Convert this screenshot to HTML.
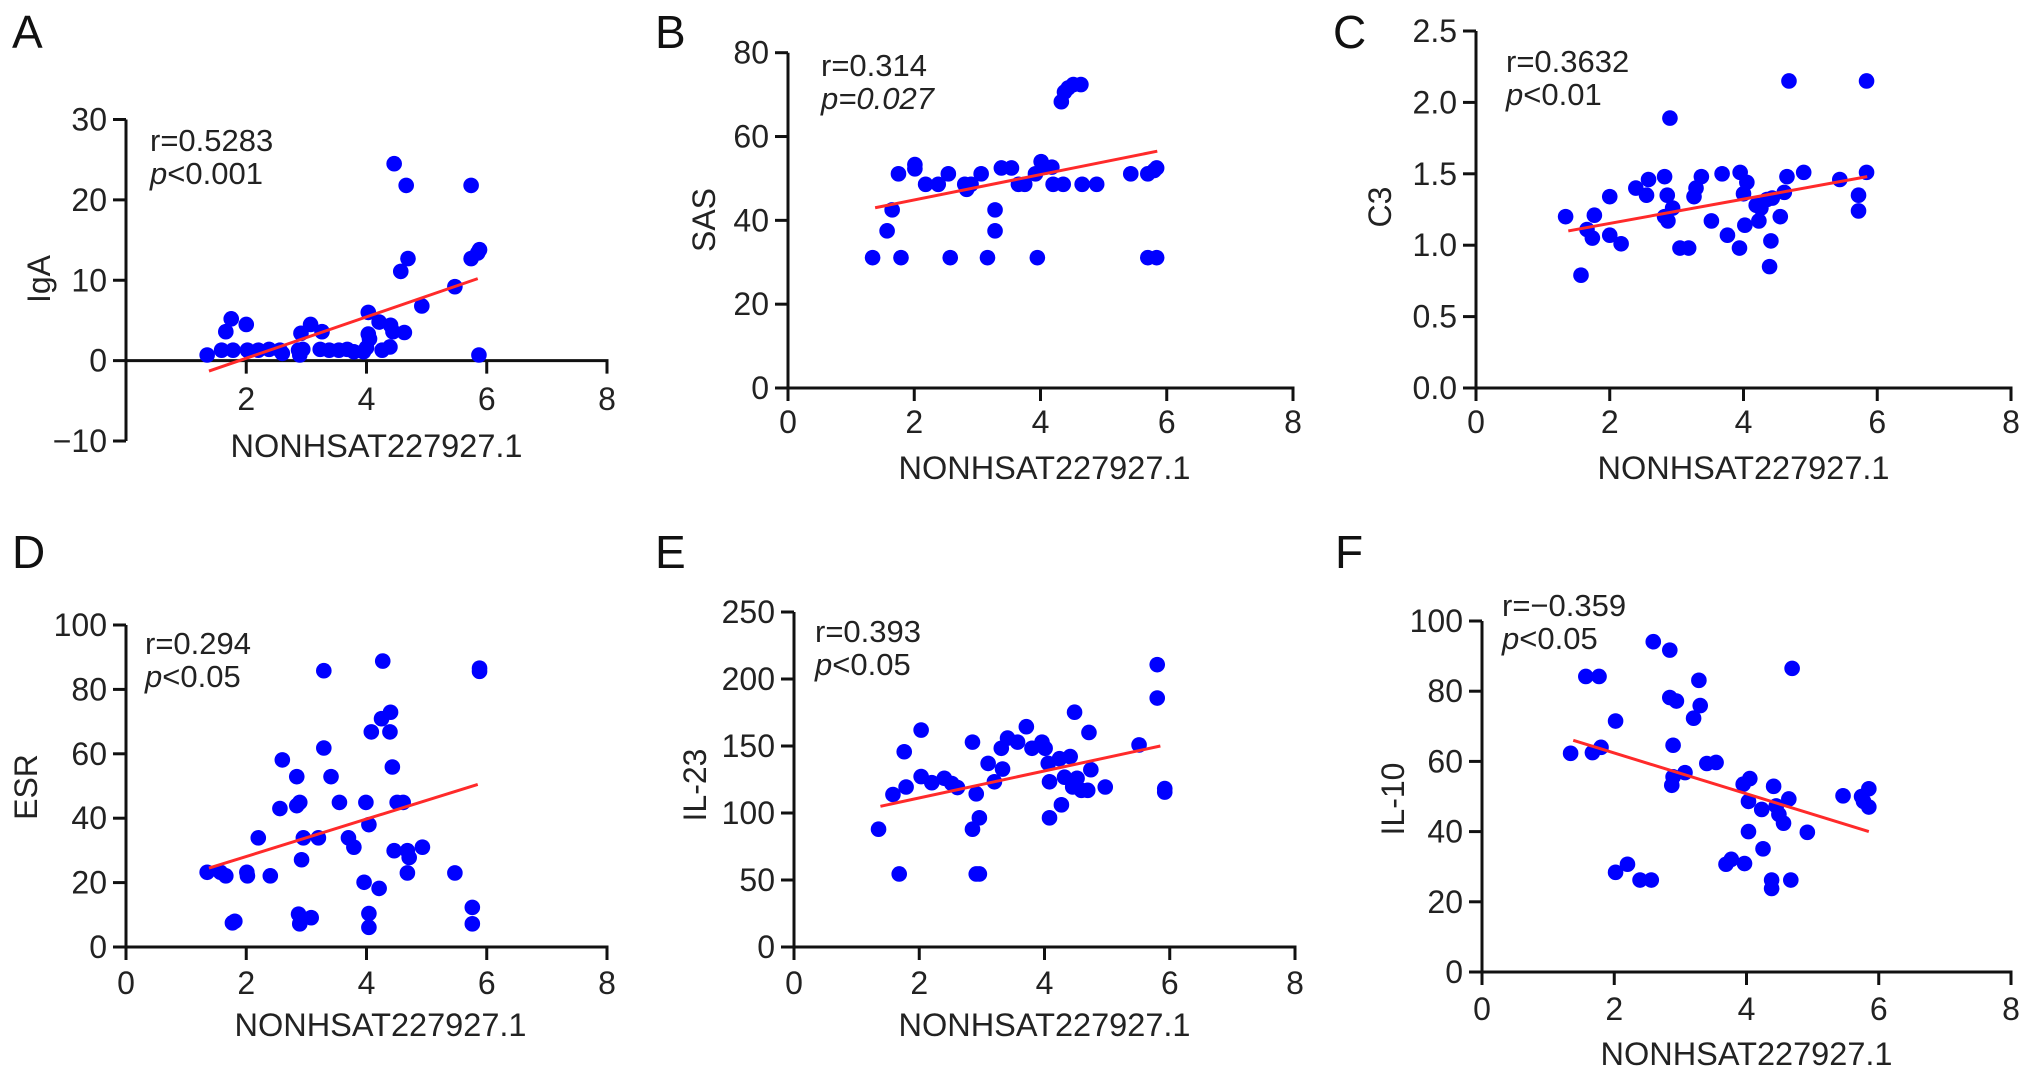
<!DOCTYPE html>
<html><head><meta charset="utf-8"><style>
html,body{margin:0;padding:0;background:#fff;}
svg{display:block;font-family:"Liberation Sans",Arial,sans-serif;}
</style></head><body>
<svg id="fig" width="2032" height="1079" viewBox="0 0 2032 1079"></svg>
<script>
// ---- data (x = NONHSAT227927.1 expression) ----
const xA=[1.35,1.59,1.75,1.66,1.78,2.0,2.02,2.2,2.38,2.56,2.6,2.87,2.89,2.91,2.94,3.07,3.26,3.23,3.38,3.54,3.68,3.79,3.95,4.0,4.03,4.03,4.05,4.21,4.26,4.39,4.4,4.44,4.46,4.57,4.63,4.66,4.69,4.92,5.47,5.74,5.74,5.85,5.88,5.87];
const yA=[0.7,1.3,5.2,3.6,1.3,4.5,1.3,1.3,1.4,1.3,0.9,1.3,0.7,3.4,1.4,4.5,3.6,1.4,1.3,1.3,1.4,1.1,1.1,1.6,3.3,6.0,2.7,4.8,1.3,1.7,4.4,3.6,24.5,11.1,3.5,21.8,12.7,6.8,9.2,21.8,12.7,13.4,13.8,0.7];
const xB=[1.34,1.57,1.65,1.75,1.79,2.01,2.01,2.18,2.38,2.54,2.57,2.8,2.83,2.9,3.06,3.16,3.28,3.28,3.38,3.54,3.65,3.75,3.92,3.95,4.01,4.08,4.18,4.2,4.36,4.33,4.38,4.44,4.52,4.64,4.66,4.89,5.43,5.7,5.7,5.8,5.84,5.84];
const yB=[31.1,37.5,42.5,51.1,31.1,53.3,52.3,48.6,48.6,51.1,31.1,48.6,47.4,48.6,51.1,31.1,42.5,37.5,52.5,52.5,48.6,48.6,51.1,31.1,54.0,52.7,52.7,48.6,48.6,68.3,70.6,71.6,72.4,72.4,48.6,48.6,51.1,51.1,31.1,51.9,52.5,31.1];
const xC=[1.34,1.57,1.66,1.74,1.77,2.0,2.0,2.17,2.39,2.55,2.58,2.82,2.82,2.86,2.87,2.9,2.94,3.05,3.18,3.26,3.29,3.37,3.52,3.68,3.76,3.94,3.95,4.0,4.02,4.05,4.19,4.23,4.26,4.35,4.39,4.41,4.43,4.55,4.61,4.65,4.68,4.9,5.44,5.72,5.72,5.84,5.84];
const yC=[1.20,0.79,1.11,1.05,1.21,1.34,1.07,1.01,1.40,1.35,1.46,1.48,1.20,1.35,1.17,1.89,1.26,0.98,0.98,1.34,1.40,1.48,1.17,1.50,1.07,0.98,1.51,1.36,1.14,1.44,1.28,1.17,1.26,1.32,0.85,1.03,1.33,1.20,1.37,1.48,2.15,1.51,1.46,1.35,1.24,1.51,2.15];
const xD=[1.35,1.57,1.66,1.77,1.81,2.01,2.02,2.2,2.4,2.56,2.6,2.84,2.84,2.89,2.87,2.89,2.92,2.95,3.08,3.2,3.29,3.29,3.41,3.55,3.7,3.79,3.99,3.96,4.04,4.04,4.04,4.08,4.21,4.25,4.27,4.39,4.4,4.43,4.46,4.51,4.61,4.68,4.71,4.68,4.93,5.47,5.76,5.76,5.88,5.88];
const yD=[23.2,23.2,22.1,7.5,8.0,23.2,22.1,33.9,22.1,43.0,58.1,52.9,43.9,44.9,10.2,7.2,27.1,33.9,9.1,33.9,85.8,61.8,52.9,44.9,33.9,31.0,44.9,20.1,38.0,10.4,6.1,66.8,18.2,70.9,88.8,66.8,72.9,55.9,29.9,44.9,44.9,29.9,27.8,23.0,31.0,23.0,12.3,7.2,86.6,85.6];
const xE=[1.35,1.58,1.68,1.76,1.79,2.03,2.03,2.2,2.4,2.52,2.61,2.85,2.85,2.91,2.91,2.96,2.96,3.1,3.2,3.31,3.33,3.41,3.57,3.71,3.8,3.96,4.01,4.06,4.08,4.08,4.24,4.27,4.32,4.41,4.45,4.48,4.52,4.59,4.69,4.71,4.74,4.97,5.51,5.8,5.8,5.92,5.92];
const yE=[87.9,113.8,54.5,145.7,119.4,161.9,127.2,122.6,125.9,122.0,119.0,152.9,87.9,114.3,54.5,54.5,96.4,137.0,123.3,148.3,132.8,155.9,152.9,164.4,148.3,152.9,148.3,137.0,96.4,123.3,140.5,106.1,126.7,142.1,119.4,175.2,125.9,116.9,116.9,160.1,132.3,119.4,150.8,210.7,185.8,118.2,115.6];
const xF=[1.34,1.57,1.67,1.77,1.8,2.02,2.02,2.2,2.39,2.56,2.59,2.84,2.84,2.89,2.94,2.89,2.87,3.07,3.2,3.28,3.3,3.4,3.54,3.69,3.77,3.95,3.97,4.03,4.03,4.05,4.23,4.25,4.38,4.38,4.41,4.45,4.49,4.56,4.64,4.67,4.69,4.92,5.46,5.74,5.77,5.85,5.85];
const yF=[62.3,84.2,62.5,84.2,64.0,71.5,28.4,30.7,26.2,26.2,94.1,91.7,78.2,64.6,77.2,55.6,53.2,56.8,72.3,83.1,75.9,59.4,59.7,30.7,32.1,53.5,30.9,40.0,48.6,55.1,46.3,35.1,26.2,23.8,52.9,47.3,44.9,42.4,49.3,26.2,86.5,39.8,50.2,50.0,48.6,52.2,47.0];
// regression line endpoints
const fitX=[1.38,5.85];
const fitA=[-1.3,10.2];
const fitB=[43.0,56.5];
const fitC=[1.10,1.48];
const fitD=[24.5,50.5];
const fitE=[105,150];
const fitF=[66,40];
// tick values
const ticksA=[-10,0,10,20,30];
const ticksB=[0,20,40,60,80];
const ticksC=[0,0.5,1.0,1.5,2.0,2.5];
const ticksD=[0,20,40,60,80,100];
const ticksE=[0,50,100,150,200,250];
const ticksF=[0,20,40,60,80,100];
const xTicks=[0,2,4,6,8];

const NS="http://www.w3.org/2000/svg";
const svg=document.getElementById('fig');
function mk(tag,attrs,parent,text){const e=document.createElementNS(NS,tag);for(const k in attrs)e.setAttribute(k,attrs[k]);if(text!==undefined)e.textContent=text;(parent||svg).appendChild(e);return e;}

const panels=[
 {id:'a',letter:'A',lx:12,ly:48,ax:126,ax8:607,ytop:119.5,ybot:441,ymin:-10,ymax:30,xs:xA,ys:yA,fit:fitA,ticks:ticksA,ylab:'IgA',ylx:39,yly:279,rx:150,ry:151,r:'r=0.5283',p:'<0.001',pItal:false,fmt:v=>v<0?'\u221210':String(v),xlabY:446,xtY:399,skip0:true,xlabDx:10},
 {id:'b',letter:'B',lx:655,ly:48,ax:788,ax8:1293,ytop:52.7,ybot:388,ymin:0,ymax:80,xs:xB,ys:yB,fit:fitB,ticks:ticksB,ylab:'SAS',ylx:704,yly:220,rx:821,ry:76,r:'r=0.314',p:'=0.027',pItal:true,fmt:v=>String(v),xlabY:468,xtY:422,xlabDx:4},
 {id:'c',letter:'C',lx:1333,ly:48,ax:1476,ax8:2011,ytop:31,ybot:388,ymin:0,ymax:2.5,xs:xC,ys:yC,fit:fitC,ticks:ticksC,ylab:'C3',ylx:1380,yly:207,rx:1506,ry:72,r:'r=0.3632',p:'<0.01',pItal:false,fmt:v=>v.toFixed(1),xlabY:468,xtY:422,xlabDx:0},
 {id:'d',letter:'D',lx:12,ly:568,ax:126,ax8:607,ytop:625,ybot:947,ymin:0,ymax:100,xs:xD,ys:yD,fit:fitD,ticks:ticksD,ylab:'ESR',ylx:26,yly:787,rx:145,ry:654,r:'r=0.294',p:'<0.05',pItal:false,fmt:v=>String(v),xlabY:1025,xtY:983,xlabDx:14},
 {id:'e',letter:'E',lx:655,ly:568,ax:794,ax8:1295,ytop:612,ybot:947,ymin:0,ymax:250,xs:xE,ys:yE,fit:fitE,ticks:ticksE,ylab:'IL-23',ylx:695,yly:785,rx:815,ry:642,r:'r=0.393',p:'<0.05',pItal:false,fmt:v=>String(v),xlabY:1025,xtY:983,xlabDx:0},
 {id:'f',letter:'F',lx:1335,ly:568,ax:1482,ax8:2011,ytop:621,ybot:972,ymin:0,ymax:100,xs:xF,ys:yF,fit:fitF,ticks:ticksF,ylab:'IL-10',ylx:1393,yly:799,rx:1502,ry:616,r:'r=\u22120.359',p:'<0.05',pItal:false,fmt:v=>String(v),xlabY:1054,xtY:1009,xlabDx:0}
];

panels.forEach(P=>{
 const g=mk('g',{});
 
 
 const sx=v=>P.ax+(v/8)*(P.ax8-P.ax);
 const sy=v=>P.ybot-(v-P.ymin)/(P.ymax-P.ymin)*(P.ybot-P.ytop);
 const y0=sy(0);
 const lt=mk('text',{x:P.lx,y:P.ly,'font-size':46,fill:'#111'},g,P.letter);
 
 
 const ya=mk('line',{x1:P.ax,y1:P.ytop,x2:P.ax,y2:P.ybot,stroke:'#111','stroke-width':3},g);
 
 
 P.ticks.forEach(t=>{
  const ty=sy(t);
  mk('line',{x1:P.ax-13,y1:ty,x2:P.ax,y2:ty,stroke:'#111','stroke-width':3},g);
  const tl=mk('text',{x:P.ax-19,y:ty+11,'font-size':32,'text-anchor':'end',fill:'#222'},g,P.fmt(t));
  
  
 });
 const xa=mk('line',{x1:P.ax,y1:y0,x2:P.ax8+1.5,y2:y0,stroke:'#111','stroke-width':3},g);
 
 
 xTicks.forEach(t=>{
  if(P.skip0&&t===0)return;
  const tx=sx(t);
  mk('line',{x1:tx,y1:y0,x2:tx,y2:y0+13,stroke:'#111','stroke-width':3},g);
  const tl=mk('text',{x:tx,y:P.xtY+11,'font-size':32,'text-anchor':'middle',fill:'#222'},g,String(t));
  
  
 });
 const xl=mk('text',{x:(P.ax+P.ax8)/2+P.xlabDx,y:P.xlabY+11,'font-size':32.5,'text-anchor':'middle',fill:'#222'},g,'NONHSAT227927.1');
 
 
 const yl=mk('text',{x:P.ylx,y:P.yly,'font-size':32,'text-anchor':'middle',fill:'#222',transform:`rotate(-90 ${P.ylx} ${P.yly}) translate(0 11)`},g,P.ylab);
 
 
 P.xs.forEach((x,i)=>{
  const c=mk('circle',{cx:sx(x),cy:sy(P.ys[i]),r:7.8,fill:'#0000ff'},g);
  
  
 });
 const fl=mk('line',{x1:sx(fitX[0]),y1:sy(P.fit[0]),x2:sx(fitX[1]),y2:sy(P.fit[1]),stroke:'#ff2a2a','stroke-width':3},g);
 
 
 const ra=mk('text',{x:P.rx,y:P.ry,'font-size':31,fill:'#222'},g,P.r);
 
 
 const pa=mk('text',{x:P.rx,y:P.ry+33,'font-size':31,fill:'#222'},g);
 
 
 mk('tspan',{'font-style':'italic'},pa,'p');
 mk('tspan',P.pItal?{'font-style':'italic'}:{},pa,P.p);
});
</script>
</body></html>
